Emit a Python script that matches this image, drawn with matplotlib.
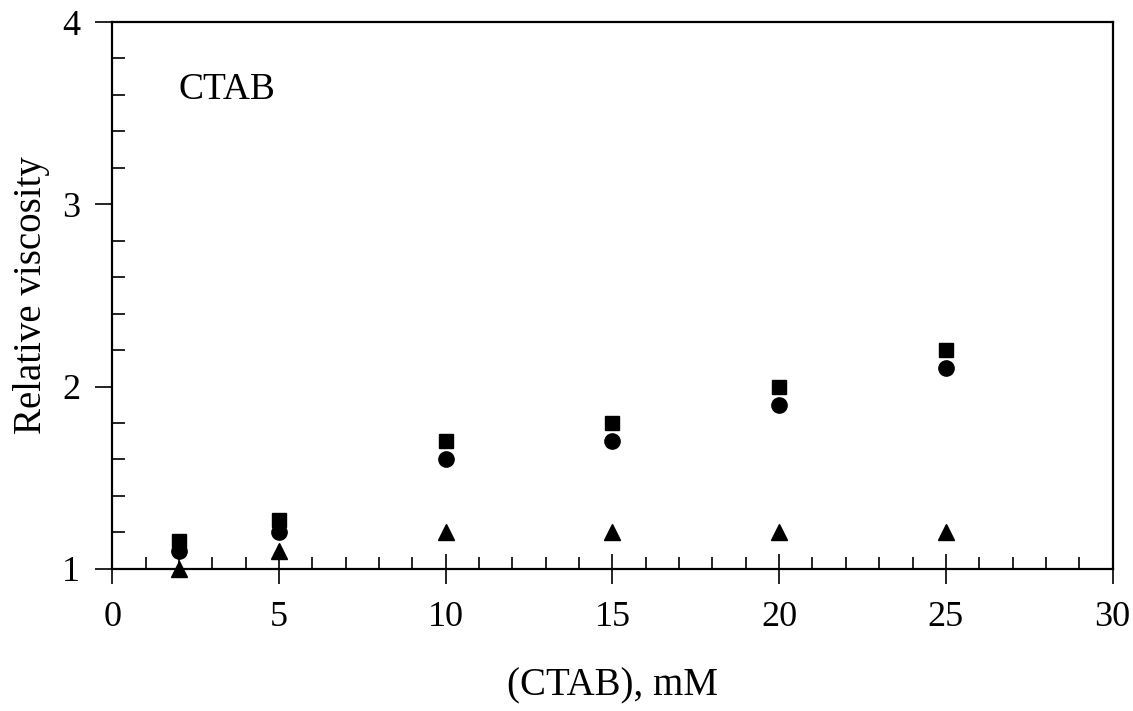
import numpy as np
import matplotlib.pyplot as plt
from matplotlib.ticker import MultipleLocator

plt.rcParams['font.family'] = ['Liberation Serif', 'DejaVu Serif']

# data
conc = [2, 5, 10, 15, 20, 25]
visc_square = [1.15, 1.27, 1.7, 1.8, 2.0, 2.2]
visc_circle = [1.1, 1.2, 1.6, 1.7, 1.9, 2.1]
visc_triangle = [1.0, 1.1, 1.2, 1.2, 1.2, 1.2]

fig = plt.figure(figsize=(11.33, 7.11), dpi=100)
ax = fig.add_axes([0.099, 0.200, 0.883, 0.769])

ax.plot(conc, visc_square, 's', color='black', markersize=10.5, clip_on=False)
ax.plot(conc, visc_circle, 'o', color='black', markersize=11, clip_on=False)
ax.plot(conc, visc_triangle, '^', color='black', markersize=11, clip_on=False)

ax.set_xlim(0, 30)
ax.set_ylim(1, 4)
ax.xaxis.set_major_locator(MultipleLocator(5))
ax.xaxis.set_minor_locator(MultipleLocator(1))
ax.yaxis.set_major_locator(MultipleLocator(1))
ax.yaxis.set_minor_locator(MultipleLocator(0.2))

ax.tick_params(axis='x', which='major', direction='inout', length=22, width=1.2,
               labelsize=26, pad=12)
ax.tick_params(axis='x', which='minor', direction='in', length=9, width=1.2)
ax.tick_params(axis='y', which='major', direction='out', length=12, width=1.2,
               labelsize=26, pad=11)
ax.tick_params(axis='y', which='minor', direction='in', length=9, width=1.2)

for s in ax.spines.values():
    s.set_linewidth(1.6)

ax.text(2.0, 3.63, 'CTAB', fontsize=27, va='center', ha='left')

ax.set_xlabel('(CTAB), mM', fontsize=28, labelpad=24)
ax.set_ylabel('Relative viscosity', fontsize=28, va='center')
ax.yaxis.set_label_coords(-0.081, 0.5)

fig.savefig('out.png', dpi=100)
